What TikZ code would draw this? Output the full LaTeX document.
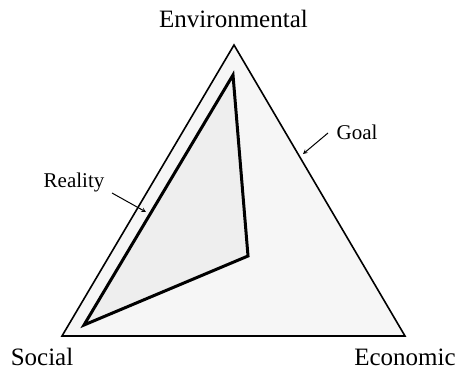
\documentclass[tikz,border=0pt]{standalone}
\usepackage{fontspec}
\setmainfont{Liberation Serif}
\begin{document}
\begin{tikzpicture}[x=1pt, y=-1pt, >=stealth,
  corner/.style={font=\fontsize{25}{25}\selectfont,inner sep=0pt,anchor=base},
  lbl/.style={font=\fontsize{21}{21}\selectfont,inner sep=0pt},
  ptr/.style={->,line width=1pt}]
\useasboundingbox (0,0) rectangle (462,370);
% goal and reality triangles
\coordinate (env) at (234,45);
\coordinate (soc) at (62,336);
\coordinate (eco) at (405,336);
\coordinate (renv) at (233,75);
\coordinate (rsoc) at (84,325);
\coordinate (reco) at (248,256);
\draw[line width=1.6pt,fill=gray!7,line join=miter] (env) -- (soc) -- (eco) -- cycle;
\draw[line width=3pt,fill=gray!13,line join=miter] (renv) -- (rsoc) -- (reco) -- cycle;
% corner names
\node[corner] (tenv) at (233.5,27) {Environmental};
\node[corner] (tsoc) at (42,365) {Social};
\node[corner] (teco) at (405,365) {Economic};
% labels with arrows
\node[lbl] (treal) at (74,182) {Reality};
\node[lbl] (tgoal) at (357,132) {Goal};
\coordinate (preal) at (146,212);
\coordinate (pgoal) at (303,154);
\draw[ptr] (112,193) -- (preal);
\draw[ptr] (328,133) -- (pgoal);
\end{tikzpicture}
\end{document}
